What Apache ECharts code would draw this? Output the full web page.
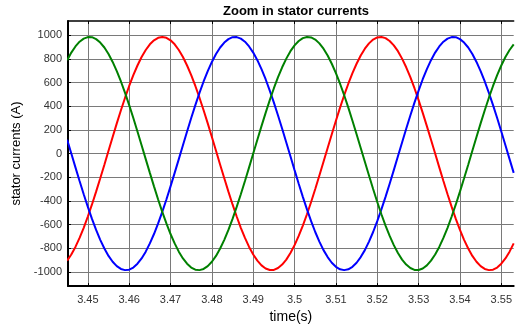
<!DOCTYPE html>
<html>
<head>
<meta charset="utf-8">
<script src="https://cdn.jsdelivr.net/npm/echarts@6/dist/echarts.min.js"></script>
<style>
html, body { margin: 0; padding: 0; background: #fff; }
#chart { width: 515px; height: 329px; }
</style>
</head>
<body>
<div id="chart"></div>
<script>
// sample times (s), 1 ms apart
var times = [3.445, 3.446, 3.447, 3.448, 3.449, 3.450, 3.451, 3.452, 3.453, 3.454,
    3.455, 3.456, 3.457, 3.458, 3.459, 3.460, 3.461, 3.462, 3.463, 3.464,
    3.465, 3.466, 3.467, 3.468, 3.469, 3.470, 3.471, 3.472, 3.473, 3.474,
    3.475, 3.476, 3.477, 3.478, 3.479, 3.480, 3.481, 3.482, 3.483, 3.484,
    3.485, 3.486, 3.487, 3.488, 3.489, 3.490, 3.491, 3.492, 3.493, 3.494,
    3.495, 3.496, 3.497, 3.498, 3.499, 3.500, 3.501, 3.502, 3.503, 3.504,
    3.505, 3.506, 3.507, 3.508, 3.509, 3.510, 3.511, 3.512, 3.513, 3.514,
    3.515, 3.516, 3.517, 3.518, 3.519, 3.520, 3.521, 3.522, 3.523, 3.524,
    3.525, 3.526, 3.527, 3.528, 3.529, 3.530, 3.531, 3.532, 3.533, 3.534,
    3.535, 3.536, 3.537, 3.538, 3.539, 3.540, 3.541, 3.542, 3.543, 3.544,
    3.545, 3.546, 3.547, 3.548, 3.549, 3.550, 3.551, 3.552, 3.553];

// phase currents (A)
var iRed = [-905, -853, -789, -713, -628, -532, -430, -322, -209, -94,
    23, 140, 255, 366, 472, 571, 663, 744, 816, 875,
    923, 957, 978, 985, 978, 957, 923, 875, 816, 744,
    663, 571, 472, 366, 255, 140, 23, -94, -209, -322,
    -430, -532, -628, -713, -789, -853, -905, -945, -971, -984,
    -983, -967, -938, -896, -841, -774, -696, -609, -513, -409,
    -300, -186, -70, 47, 163, 277, 388, 493, 590, 680,
    759, 829, 886, 931, 963, 981, 985, 975, 951, 914,
    865, 802, 729, 645, 552, 451, 344, 232, 117, 0,
    -117, -232, -344, -451, -552, -645, -729, -802, -865, -914,
    -951, -975, -985, -981, -963, -931, -886, -829, -759];
var iBlue = [117, 0, -117, -232, -344, -451, -552, -645, -729, -802,
    -865, -914, -951, -975, -985, -981, -963, -931, -886, -829,
    -759, -680, -590, -493, -388, -277, -163, -47, 70, 186,
    300, 409, 513, 609, 696, 774, 841, 896, 938, 967,
    983, 984, 971, 945, 905, 853, 789, 713, 628, 532,
    430, 322, 209, 94, -23, -140, -255, -366, -472, -571,
    -663, -744, -816, -875, -923, -957, -978, -985, -978, -957,
    -923, -875, -816, -744, -663, -571, -472, -366, -255, -140,
    -23, 94, 209, 322, 430, 532, 628, 713, 789, 853,
    905, 945, 971, 984, 983, 967, 938, 896, 841, 774,
    696, 609, 513, 409, 300, 186, 70, -47, -163];
var iGreen = [789, 853, 905, 945, 971, 984, 983, 967, 938, 896,
    841, 774, 696, 609, 513, 409, 300, 186, 70, -47,
    -163, -277, -388, -493, -590, -680, -759, -829, -886, -931,
    -963, -981, -985, -975, -951, -914, -865, -802, -729, -645,
    -552, -451, -344, -232, -117, 0, 117, 232, 344, 451,
    552, 645, 729, 802, 865, 914, 951, 975, 985, 981,
    963, 931, 886, 829, 759, 680, 590, 493, 388, 277,
    163, 47, -70, -186, -300, -409, -513, -609, -696, -774,
    -841, -896, -938, -967, -983, -984, -971, -945, -905, -853,
    -789, -713, -628, -532, -430, -322, -209, -94, 23, 140,
    255, 366, 472, 571, 663, 744, 816, 875, 923];

var xTicks = [3.45, 3.46, 3.47, 3.48, 3.49, 3.5, 3.51, 3.52, 3.53, 3.54, 3.55];
var yTicks = [-1000, -800, -600, -400, -200, 0, 200, 400, 600, 800, 1000];

function pairs(vals) {
    var out = [];
    for (var i = 0; i < times.length; i++) out.push([times[i], vals[i]]);
    return out;
}

var font = 'Liberation Sans, Arial, sans-serif';
var gridLine = { show: true, lineStyle: { color: '#7a7a7a', width: 1 } };

var chart = echarts.init(document.getElementById('chart'), null, { renderer: 'canvas' });
chart.setOption({
    animation: false,
    title: {
        text: 'Zoom in stator currents',
        left: 291, top: 0, textAlign: 'center',
        textStyle: { fontSize: 13, fontWeight: 'bold', color: '#000', fontFamily: font }
    },
    grid: { left: 68, right: 0, top: 21, bottom: 32 },
    xAxis: [{
        type: 'value', min: 3.4452, max: 3.553,
        name: 'time(s)', nameLocation: 'middle', nameGap: 22,
        nameTextStyle: { fontSize: 14, color: '#000', fontFamily: font },
        axisLine: { show: true, onZero: false, lineStyle: { color: '#000', width: 2 } },
        axisTick: { show: true, inside: true, length: 3, customValues: xTicks, lineStyle: { color: '#000' } },
        axisLabel: { customValues: xTicks, fontSize: 11, color: '#333', margin: 8, fontFamily: font,
            formatter: function (v) { return String(+v.toFixed(2)); } },
        splitLine: gridLine
    }, {
        type: 'value', position: 'top', min: 3.4452, max: 3.553,
        axisLine: { show: true, onZero: false, lineStyle: { color: '#000', width: 1.5 } },
        axisTick: { show: true, inside: true, length: 3, customValues: xTicks, lineStyle: { color: '#000' } },
        axisLabel: { show: false },
        splitLine: { show: false }
    }],
    yAxis: {
        type: 'value', min: -1120, max: 1120,
        name: 'stator currents (A)', nameLocation: 'middle', nameGap: 33,
        nameTextStyle: { fontSize: 13, color: '#000', fontFamily: font },
        axisLine: { show: true, onZero: false, lineStyle: { color: '#000', width: 2 } },
        axisTick: { show: true, inside: true, length: 3, customValues: yTicks, lineStyle: { color: '#000' } },
        axisLabel: { customValues: yTicks, fontSize: 11, color: '#333', margin: 6, fontFamily: font,
            formatter: function (v) { return String(v); } },
        splitLine: gridLine
    },
    series: [
        { name: 'ia', type: 'line', data: pairs(iRed), showSymbol: false,
          lineStyle: { color: '#ff0000', width: 2 } },
        { name: 'ib', type: 'line', data: pairs(iBlue), showSymbol: false,
          lineStyle: { color: '#0000ff', width: 2 } },
        { name: 'ic', type: 'line', data: pairs(iGreen), showSymbol: false,
          lineStyle: { color: '#008000', width: 2 } }
    ]
});
</script>
</body>
</html>
